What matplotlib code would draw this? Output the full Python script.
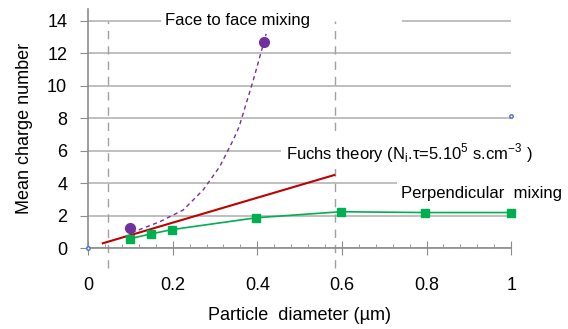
import numpy as np
import matplotlib
matplotlib.use("Agg")
import matplotlib.pyplot as plt
from matplotlib.ticker import MultipleLocator

plt.rcParams['font.family'] = ['Liberation Sans', 'DejaVu Sans']
plt.rcParams['mathtext.fontset'] = 'custom'
plt.rcParams['mathtext.rm'] = 'Liberation Sans'

face_x = [0.099, 0.417]
face_y = [1.23, 12.7]
face_trend_x = [0.103, 0.17, 0.225, 0.272, 0.311, 0.343, 0.357, 0.39, 0.421]
face_trend_y = [0.96, 1.64, 2.36, 3.59, 5.02, 6.66, 7.48, 10.3, 13.2]

# perpendicular mixing
perp_x = [0.1, 0.148, 0.198, 0.398, 0.597, 0.797, 1.0]
perp_y = [0.6, 0.88, 1.15, 1.88, 2.25, 2.2, 2.2]

# Fuchs theory line
fuchs_x = [0.035, 0.582]
fuchs_y = [0.31, 4.51]

# hidden scaling series (tiny blue markers)
blue_x = [0.0, 1.0]
blue_y = [0.0, 8.15]

# vertical dashed markers
vlines_x = [0.047, 0.584]

xticks = [0, 0.2, 0.4, 0.6, 0.8, 1]
xticklabels = ['0', '0.2', '0.4', '0.6', '0.8', '1']
yticks = [0, 2, 4, 6, 8, 10, 12, 14]

fig = plt.figure(figsize=(5.68, 3.29), dpi=100)
ax = fig.add_axes([0.155, 0.2453, 0.745, 0.726])

ax.set_xlim(0, 1)
ax.set_ylim(0, 14.7)

for s in ['top', 'right']:
    ax.spines[s].set_visible(False)
for s in ['left', 'bottom']:
    ax.spines[s].set_color('#8c8c8c')
    ax.spines[s].set_linewidth(1.2)

ax.set_yticks(yticks)
ax.set_xticks(xticks)
ax.set_xticklabels(xticklabels)
ax.xaxis.set_minor_locator(MultipleLocator(0.04))
ax.tick_params(axis='y', direction='out', length=6, color='#8c8c8c',
               labelsize=13, pad=9)
ax.tick_params(axis='x', which='major', direction='inout', length=10,
               color='#8c8c8c', labelsize=13, pad=16)
ax.tick_params(axis='x', which='minor', direction='in', length=3,
               color='#8c8c8c')

ax.grid(axis='y', color='#b4b4b4', linewidth=1.2, zorder=0)
ax.set_axisbelow(True)

for xv in vlines_x:
    ax.plot([xv, xv], [-1.2, 14], color='#a0a0a0', linestyle=(0, (6, 5)),
            linewidth=1, clip_on=False, zorder=2.5)

ax.plot(face_trend_x, face_trend_y, color='#7030a0', linestyle=(0, (3, 2.5)),
        linewidth=1, zorder=4)
ax.plot(face_x, face_y, 'o', color='#7030a0', markersize=7, zorder=5)

ax.plot(fuchs_x, fuchs_y, color='#c00000', linewidth=1.5, zorder=4)

ax.plot(perp_x, perp_y, color='#00b050', linewidth=1.2, marker='s',
        markersize=5.5, zorder=5, clip_on=False)

ax.plot(blue_x, blue_y, 'o', markersize=2.5, markerfacecolor='white',
        markeredgecolor='#4472c4', markeredgewidth=1, linestyle='none',
        clip_on=False, zorder=6)

box = dict(facecolor='white', edgecolor='none', pad=3)
ax.text(0.182, 14, 'Face to face mixing' + ' ' * 19, fontsize=12,
        va='center', ha='left', bbox=box, zorder=2)
ax.text(0.467, 5.86, r'Fuchs theory (N$_{\mathregular{i}}$.τ=5.10$^{5}$ s.cm$^{-3}$ )',
        fontsize=12, va='center', ha='left', bbox=box, zorder=3, clip_on=False)
ax.text(0.74, 3.4, 'Perpendicular  mixing', fontsize=12, va='center',
        ha='left', bbox=box, zorder=3)

ax.set_xlabel('Particle  diameter (µm)', fontsize=13, labelpad=9)
ax.set_ylabel('Mean charge number', fontsize=13, labelpad=10)

fig.savefig('out.png', dpi=100)
